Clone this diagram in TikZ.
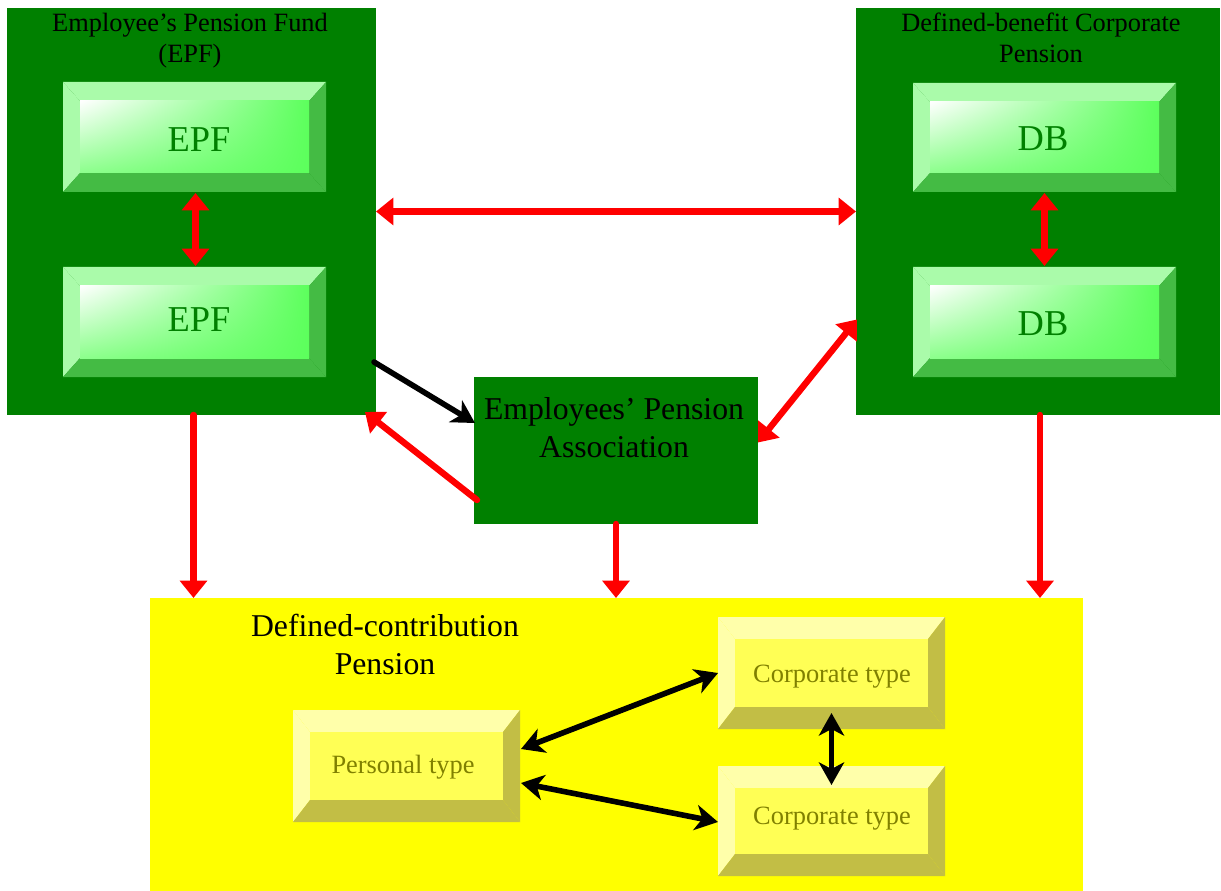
\documentclass[tikz,border=0pt]{standalone}
\usepackage{fontspec}
\setmainfont{Liberation Serif}
\usetikzlibrary{arrows.meta,calc,fit,shadings}

\definecolor{boxgreen}{HTML}{008000}
\definecolor{lightG}{HTML}{AAFBAA}
\definecolor{darkG}{HTML}{44BB44}
\definecolor{faceGa}{HTML}{5CFF5C}
\definecolor{faceGb}{HTML}{8CFF8C}
\definecolor{boxyellow}{HTML}{FFFF00}
\definecolor{lightY}{HTML}{FFFFAA}
\definecolor{darkY}{HTML}{C2BE45}
\definecolor{faceYc}{HTML}{FFFF55}
\definecolor{textolive}{HTML}{808000}
\definecolor{arrred}{HTML}{FF0000}

% bevelled button: name, x1, y1, x2, y2, bevel x, bevel y, palette (G or Y)
\newcommand\bevelbox[8]{%
  \node[fit={(#2,#3)(#4,#5)}, inner sep=0pt, outer sep=0pt] (#1) {};
  \fill[light#8] (#2,#3) -- (#4,#3) -- (#4-#6,#3+#7) -- (#2+#6,#3+#7) -- cycle;
  \fill[light#8] (#2,#3) -- (#2+#6,#3+#7) -- (#2+#6,#5-#7) -- (#2,#5) -- cycle;
  \fill[dark#8] (#2,#5) -- (#2+#6,#5-#7) -- (#4-#6,#5-#7) -- (#4,#5) -- cycle;
  \fill[dark#8] (#4,#3) -- (#4,#5) -- (#4-#6,#5-#7) -- (#4-#6,#3+#7) -- cycle;
  \path[face#8] (#2+#6,#3+#7) rectangle (#4-#6,#5-#7);
}

\begin{document}
\begin{tikzpicture}[x=0.75pt,y=-0.75pt,
  faceG/.style={shade, upper left=white, upper right=faceGa, lower left=faceGb, lower right=faceGa},
  faceY/.style={fill=faceYc},
  panel/.style={inner sep=0pt, outer sep=0pt},
  lbl/.style={anchor=base, inner sep=0pt, align=center},
  bigG/.style={lbl, text=boxgreen, font=\fontsize{27.3}{32}\selectfont},
  smallY/.style={lbl, text=textolive, font=\fontsize{19.8}{24}\selectfont},
  titleA/.style={lbl, font=\fontsize{19.8}{23.25}\selectfont},
  titleB/.style={lbl, font=\fontsize{23.8}{28.5}\selectfont},
  redarr/.style={draw=arrred, line width=4.8pt, line cap=round,
    arrows={-Triangle[width=20pt,length=13pt]}},
  redarr2/.style={redarr, arrows={Triangle[width=20pt,length=13pt]-Triangle[width=20pt,length=13pt]}},
  blkarr2/.style={draw=black, line width=4.2pt,
    arrows={Stealth[width=19pt,length=17pt,inset=5pt]-Stealth[width=19pt,length=17pt,inset=5pt]}},
  blkarr/.style={draw=black, line width=4.2pt, line cap=round,
    arrows={-Stealth[width=19pt,length=17pt,inset=5pt]}}
]
\useasboundingbox (0,0) rectangle (1221,891);
\fill[white] (0,0) rectangle (1221,891);

% large panels
\node[panel, fill=boxgreen, fit={(7,8)(376,415)}] (epfbox) {};
\node[panel, fill=boxgreen, fit={(856,8)(1220,415)}] (dbbox) {};
\node[panel, fill=boxgreen, fit={(474,377)(758,524)}] (epa) {};
\node[panel, fill=boxyellow, fit={(150,598)(1083,891)}] (dcbox) {};

% bevelled buttons
\bevelbox{epf1}{63}{82}{326}{192}{17}{19}{G}
\bevelbox{epf2}{63}{267}{326}{377}{17}{19}{G}
\bevelbox{db1}{913}{83}{1176}{192}{17}{19}{G}
\bevelbox{db2}{913}{267}{1176}{377}{17}{19}{G}
\bevelbox{pers}{293}{710}{520}{822}{17}{22}{Y}
\bevelbox{corp1}{718}{617}{945}{729}{17}{22}{Y}
\bevelbox{corp2}{718}{766}{945}{876}{17}{22}{Y}

% labels (base = baseline of the last line)
\node[titleA] (epftitle) at (190,63) {Employee’s Pension Fund\\(EPF)};
\node[titleA] (dbtitle) at (1041,63) {Defined-benefit Corporate\\Pension};
\node[titleB] (epatext) at (614,457) {Employees’ Pension\\Association};
\node[titleB] (dctitle) at (385,674) {Defined-contribution\\Pension};
\node[bigG] (epf1t) at (199,152) {EPF};
\node[bigG] (epf2t) at (199,332) {EPF};
\node[bigG] (db1t) at (1043,151) {DB};
\node[bigG] (db2t) at (1043,335) {DB};
\node[smallY] (perst) at (403,773) {Personal type};
\node[smallY] (corp1t) at (832,682) {Corporate type};
\node[smallY] (corp2t) at (832,824) {Corporate type};

% connectors between the green panels
\draw[redarr2, line cap=butt] ($(epf1.south)+(1,1)$) -- ($(epf2.north)+(1,-1)$);
\draw[redarr2, line cap=butt] ($(db1.south)+(0,1)$) -- ($(db2.north)+(0,-1)$);
\draw[redarr2, line cap=butt] (epfbox.east) -- (dbbox.west);
\draw[redarr2, line cap=butt] ($(epa.east)+(0,-8)$) -- ($(dbbox.west)+(1,108)$);
\draw[blkarr] ($(epfbox.south east)+(-2,-53)$) -- ($(epa.north west)+(1,46)$);
\draw[redarr] ($(epa.south west)+(3,-24)$) -- ($(epfbox.south east)+(-11,-3)$);

% flows into the defined-contribution panel
\coordinate (d1) at ($(epfbox.south)+(2,0)$);
\coordinate (d3) at ($(dbbox.south)+(2,0)$);
\draw[redarr] (d1) -- (d1 |- dcbox.north);
\draw[redarr] (epa.south) -- (epa.south |- dcbox.north);
\draw[redarr] (d3) -- (d3 |- dcbox.north);

% links inside the defined-contribution panel
\draw[blkarr2] ($(pers.east)+(1,-17)$) -- (corp1.west);
\draw[blkarr2] ($(pers.east)+(1,17)$) -- ($(corp2.west)+(0,1)$);
\draw[blkarr2] ($(corp1.south)+(0,-16)$) -- ($(corp2.north)+(0,19)$);
\end{tikzpicture}
\end{document}
